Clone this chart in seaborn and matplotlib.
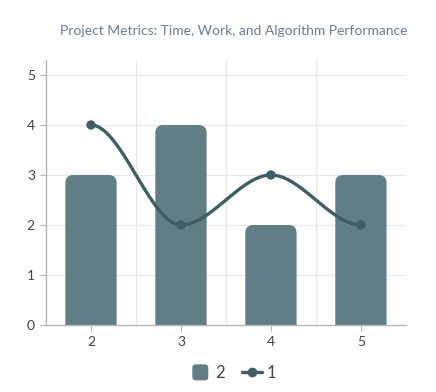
import numpy as np
import pandas as pd
import matplotlib
matplotlib.use("Agg")
import matplotlib.pyplot as plt
import seaborn as sns
from matplotlib.patches import FancyBboxPatch, Patch
from matplotlib.lines import Line2D
from matplotlib.legend_handler import HandlerPatch

categories = ["2", "3", "4", "5"]
bar_values = [3, 4, 2, 3]
line_values = [4, 2, 3, 2]
bar_label = "2"
line_label = "1"
title = "Project Metrics: Time, Work, and Algorithm Performance"

BAR_COLOR = "#5f7e86"
LINE_COLOR = "#3e5d64"

sns.set_theme(style="white")
plt.rcParams["font.family"] = ["Lato", "DejaVu Sans"]

fig = plt.figure(figsize=(4.36, 3.92), dpi=100)
ax = fig.add_axes([0.1055, 0.171, 0.8255, 0.676])

df = pd.DataFrame({"cat": categories, "bar": bar_values, "line": line_values})
sns.barplot(data=df, x="cat", y="bar", color=BAR_COLOR, width=0.57,
            saturation=1, ax=ax, zorder=2)

# replace bars with rounded-top boxes (bottom corners clipped below axis)
rx = 0.09
ry = rx * 90 / 50
for p in list(ax.patches):
    x0, w, h = p.get_x(), p.get_width(), p.get_height()
    fb = FancyBboxPatch((x0 + rx, -0.5), w - 2 * rx, h - ry + 0.5,
                        boxstyle=f"round,pad={rx},rounding_size={rx}",
                        mutation_aspect=ry / rx,
                        facecolor=BAR_COLOR, edgecolor="none", zorder=2)
    p.remove()
    ax.add_patch(fb)

# smooth drawing of the line: cubic Hermite segments with flat tangents
xs = np.arange(len(line_values), dtype=float)
ys = np.array(line_values, dtype=float)
xx, yy = [], []
for i in range(len(xs) - 1):
    t = np.linspace(0, 1, 60)
    h00 = 2 * t**3 - 3 * t**2 + 1
    h01 = -2 * t**3 + 3 * t**2
    xx.extend(xs[i] + t * (xs[i + 1] - xs[i]))
    yy.extend(h00 * ys[i] + h01 * ys[i + 1])
sns.lineplot(x=xx, y=yy, ax=ax, color=LINE_COLOR, linewidth=2.4, zorder=3,
             sort=False)
sns.scatterplot(x=xs, y=ys, ax=ax, color=LINE_COLOR, s=45, zorder=4,
                edgecolor="none")

ax.set_xlim(-0.5, 3.5)
ax.set_ylim(0, 5.3)
ax.set_yticks([0, 1, 2, 3, 4, 5])
ax.set_xticks(range(len(categories)))
ax.set_xticklabels(categories)
ax.set_xlabel("")
ax.set_ylabel("")

for yv in [1, 2, 3, 4, 5]:
    ax.axhline(yv, color="#e8e8e8", linewidth=0.9, zorder=0)
for xv in [0.5, 1.5, 2.5]:
    ax.axvline(xv, color="#e8e8e8", linewidth=0.9, zorder=0)

for s in ["top", "right"]:
    ax.spines[s].set_visible(False)
for s in ["left", "bottom"]:
    ax.spines[s].set_color("#b5b5b5")
    ax.spines[s].set_linewidth(1.0)
ax.tick_params(axis="both", length=4, width=0.8, color="#b5b5b5",
               labelsize=10, labelcolor="#444444", pad=4, left=True, bottom=True)

fig.text(0.535, 0.922, title, ha="center", va="center", fontsize=10,
         color="#6e7a96")


class RoundSquare(HandlerPatch):
    def create_artists(self, legend, orig_handle, xdescent, ydescent,
                       width, height, fontsize, trans):
        s = 11.5
        cx = -xdescent + width / 2
        cy = -ydescent + height / 2
        p = FancyBboxPatch((cx - s / 2 + 2, cy - s / 2 + 2), s - 4, s - 4,
                           boxstyle="round,pad=2,rounding_size=2.5",
                           facecolor=orig_handle.get_facecolor(),
                           edgecolor="none", transform=trans)
        return [p]


handles = [Patch(facecolor=BAR_COLOR, edgecolor="none", label=bar_label),
           Line2D([0], [0], color=LINE_COLOR, linewidth=2.4, marker="o",
                  markersize=6, label=line_label)]
leg = fig.legend(handles=handles, loc="center", bbox_to_anchor=(0.535, 0.048),
                 ncol=2, frameon=False, fontsize=12, handlelength=1.2,
                 handletextpad=0.3, columnspacing=1.0,
                 handler_map={Patch: RoundSquare()})
for t in leg.get_texts():
    t.set_color("#444444")

fig.savefig("out.png", dpi=100)
